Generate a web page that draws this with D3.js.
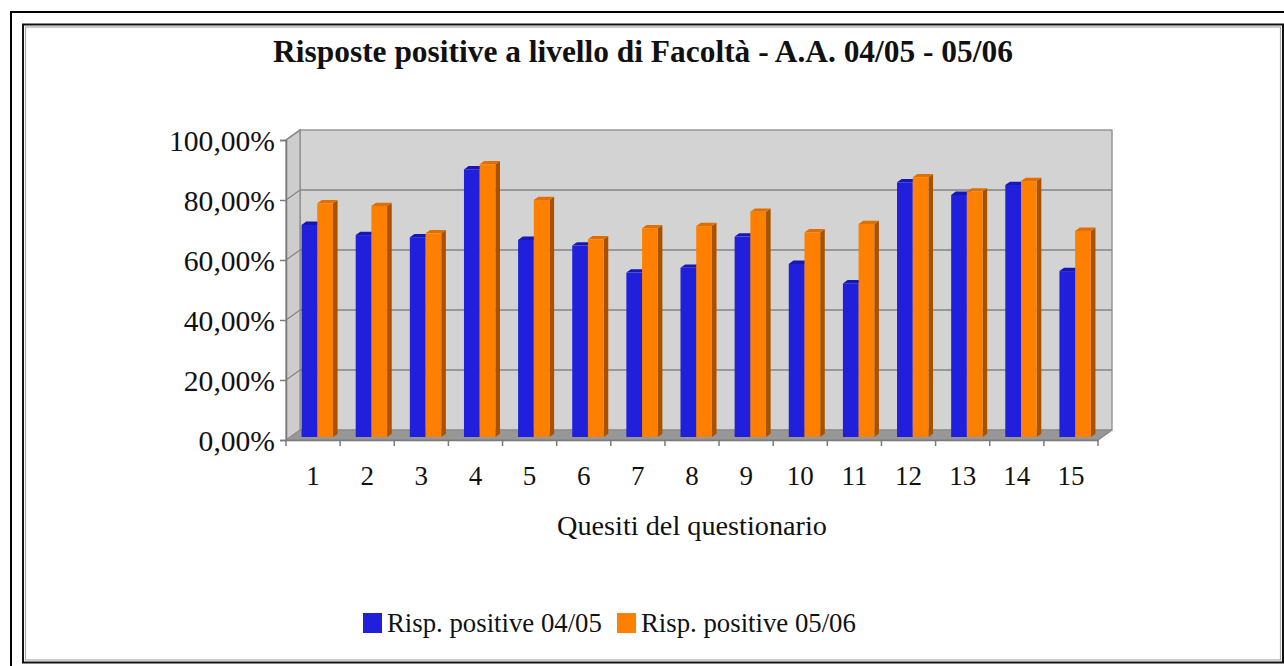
<!DOCTYPE html>
<html>
<head>
<meta charset="utf-8">
<script src="https://cdn.jsdelivr.net/npm/d3@7"></script>
<style>
  html, body { margin: 0; padding: 0; background: #ffffff; }
  svg { display: block; }
  text { font-family: "Liberation Serif", "DejaVu Serif", serif; fill: #111; }
</style>
</head>
<body>
<svg id="chart" width="1284" height="666"></svg>
<script>
// ---- data ----
const categories = ["1","2","3","4","5","6","7","8","9","10","11","12","13","14","15"];
const seriesNames = ["Risp. positive 04/05", "Risp. positive 05/06"];
const values0405 = [70.7, 67.3, 66.6, 89.2, 65.7, 63.8, 54.8, 56.4, 66.8, 57.7, 51.2, 84.9, 80.7, 84.0, 55.3];
const values0506 = [77.9, 77.0, 67.9, 90.9, 79.0, 65.9, 69.6, 70.3, 75.1, 68.2, 71.0, 86.6, 81.8, 85.3, 68.7];
const yTickValues = [0, 20, 40, 60, 80, 100];
const titleText = "Risposte positive a livello di Facoltà - A.A. 04/05 - 05/06";
const xAxisTitle = "Quesiti del questionario";

// ---- helpers ----
function fitFont(sel, base, target, lo, hi) {
  const w = sel.node().getComputedTextLength();
  const f = Math.max(lo, Math.min(hi, base * target / w));
  sel.attr("font-size", f);
  return f;
}

// ---- layout ----
const svg = d3.select("#chart");
const frontLeft = 286, frontRight = 1098, frontBottom = 440, frontTop = 140;
const depthDx = 14, depthDy = -10;   // wall depth offset

const x = d3.scaleBand().domain(categories).range([frontLeft, frontRight]).paddingInner(0).paddingOuter(0);
const y = d3.scaleLinear().domain([0, 100]).range([frontBottom, frontTop]);
const boundary = d3.scaleLinear().domain([0, categories.length]).range([frontLeft, frontRight]);

// frames
svg.append("rect").attr("x", 11).attr("y", 12).attr("width", 1300).attr("height", 700)
  .attr("fill", "none").attr("stroke", "#000").attr("stroke-width", 2);
svg.append("rect").attr("x", 23).attr("y", 24.5).attr("width", 1260).attr("height", 638)
  .attr("fill", "#fff").attr("stroke", "#111").attr("stroke-width", 2);
svg.append("rect").attr("x", 25.5).attr("y", 27).attr("width", 1255).attr("height", 633)
  .attr("fill", "none").attr("stroke", "#aaa").attr("stroke-width", 1.2);

// title
const title = svg.append("text").attr("x", 643).attr("y", 62).attr("text-anchor", "middle")
  .attr("font-weight", "bold").attr("font-size", 28).text(titleText);
fitFont(title, 28, 740, 22, 32);

const plot = svg.append("g");
const bx = frontLeft + depthDx, by = frontBottom + depthDy;
// back wall
plot.append("rect").attr("x", bx).attr("y", y(100) + depthDy)
  .attr("width", frontRight - frontLeft).attr("height", y(0) - y(100))
  .attr("fill", "#d3d3d3").attr("stroke", "#8a8a8a").attr("stroke-width", 1.3);
// left wall
plot.append("path")
  .attr("d", `M${frontLeft},${y(100)} L${bx},${y(100) + depthDy} L${bx},${by} L${frontLeft},${frontBottom} Z`)
  .attr("fill", "#cdcdcd").attr("stroke", "#8a8a8a").attr("stroke-width", 1.2);
// floor
plot.append("path")
  .attr("d", `M${frontLeft},${frontBottom} L${frontRight},${frontBottom} L${frontRight + depthDx},${by} L${bx},${by} Z`)
  .attr("fill", "#979797").attr("stroke", "#8a8a8a").attr("stroke-width", 1);

// gridlines
yTickValues.filter(v => v > 0 && v < 100).forEach(v => {
  plot.append("line").attr("x1", bx).attr("x2", frontRight + depthDx)
    .attr("y1", y(v) + depthDy).attr("y2", y(v) + depthDy)
    .attr("stroke", "#858585").attr("stroke-width", 1.3);
});
yTickValues.filter(v => v > 0).forEach(v => {
  plot.append("line").attr("x1", frontLeft).attr("x2", bx)
    .attr("y1", y(v)).attr("y2", y(v) + depthDy)
    .attr("stroke", "#858585").attr("stroke-width", 1.2);
});

// bars (3D)
const barT = 0.3, barDepth = 0.33;
const sx = depthDx * barT, sy = depthDy * barT;
const ddx = depthDx * barDepth, ddy = depthDy * barDepth;
const barW = x.bandwidth() * 0.29;
const colors = [
  { front: "#1f1fdc", side: "#10108c", top: "#1717b4" },
  { front: "#ff8000", side: "#a65200", top: "#e06f00" }
];
const allSeries = [values0405, values0506];
const barsG = plot.append("g");
categories.forEach((c, i) => {
  allSeries.forEach((vals, s) => {
    const v = vals[i];
    const cx = x(c) + x.bandwidth() / 2;
    const x0 = cx - barW + s * barW + sx;
    const x1 = x0 + barW;
    const yb = y(0) + sy;
    const yt = y(v) + sy;
    const col = colors[s];
    const g = barsG.append("g");
    g.append("path")
      .attr("d", `M${x1},${yb} L${x1 + ddx},${yb + ddy} L${x1 + ddx},${yt + ddy} L${x1},${yt} Z`)
      .attr("fill", col.side);
    g.append("path")
      .attr("d", `M${x0},${yt} L${x1},${yt} L${x1 + ddx},${yt + ddy} L${x0 + ddx},${yt + ddy} Z`)
      .attr("fill", col.top);
    g.append("rect").attr("x", x0).attr("y", yt).attr("width", barW).attr("height", yb - yt)
      .attr("fill", col.front);
  });
});

// right edge of floor
plot.append("line").attr("x1", frontRight).attr("y1", frontBottom)
  .attr("x2", frontRight + depthDx).attr("y2", by).attr("stroke", "#8a8a8a").attr("stroke-width", 1.2);

// y axis
const yAxis = d3.axisLeft(y).tickValues(yTickValues).tickSize(6).tickPadding(5)
  .tickFormat(v => d3.format(".2f")(v).replace(".", ",") + "%");
const yg = svg.append("g").attr("transform", `translate(${frontLeft},0)`).call(yAxis);
yg.select(".domain").attr("stroke", "#7a7a7a").attr("stroke-width", 1.5);
yg.selectAll(".tick line").attr("stroke", "#7a7a7a").attr("stroke-width", 1.5);
const yLabels = yg.selectAll(".tick text").attr("font-size", 28).attr("fill", "#111")
  .attr("font-family", '"Liberation Serif", serif').attr("dy", "0.34em");
{
  const topLabel = yLabels.filter(d => d === 100);
  const f = fitFont(topLabel, 28, 106, 24, 32);
  yLabels.attr("font-size", f);
}

// x axis
const xAxis = d3.axisBottom(x).tickSize(0).tickPadding(26);
const xg = svg.append("g").attr("transform", `translate(0,${frontBottom})`).call(xAxis);
xg.select(".domain").attr("stroke", "#7a7a7a").attr("stroke-width", 1.5);
xg.selectAll(".tick text").attr("font-size", 27).attr("fill", "#111")
  .attr("font-family", '"Liberation Serif", serif');
d3.range(categories.length + 1).forEach(k => {
  svg.append("line").attr("x1", boundary(k)).attr("x2", boundary(k))
    .attr("y1", frontBottom).attr("y2", frontBottom + 6)
    .attr("stroke", "#7a7a7a").attr("stroke-width", 1.5);
});

// x axis title
const xt = svg.append("text").attr("x", 692).attr("y", 535).attr("text-anchor", "middle")
  .attr("font-size", 26).text(xAxisTitle);
fitFont(xt, 26, 270, 24, 30);

// legend
const legend = svg.append("g");
const legendX = [363, 617];
let legendFont = 25;
seriesNames.forEach((name, s) => {
  legend.append("rect").attr("x", legendX[s]).attr("y", 613).attr("width", 19).attr("height", 20)
    .attr("fill", colors[s].front);
  const t = legend.append("text").attr("x", legendX[s] + 24).attr("y", 632).attr("font-size", 25).text(name);
  if (s === 0) legendFont = fitFont(t, 25, 215, 22, 29);
  else t.attr("font-size", legendFont);
});
</script>
</body>
</html>
